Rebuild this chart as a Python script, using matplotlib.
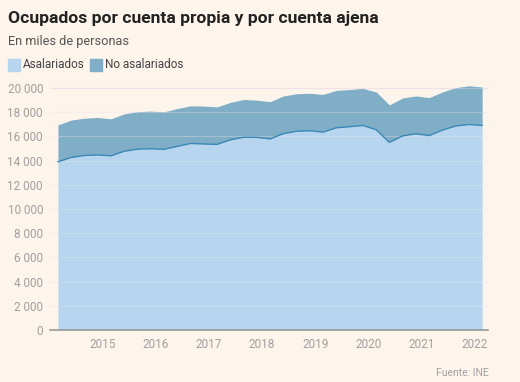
import matplotlib.pyplot as plt
import numpy as np

# EPA quarterly data, 2014 Q1 - 2022 Q1 (thousands of people)
years = [2014, 2015, 2016, 2017, 2018, 2019, 2020, 2021, 2022]
asalariados = [13903, 14265, 14427, 14470,
               14397, 14776, 14949, 14986,
               14934, 15180, 15418, 15377,
               15342, 15718, 15931, 15924,
               15792, 16231, 16427, 16469,
               16357, 16716, 16806, 16907,
               16556, 15511, 16043, 16222,
               16070, 16520, 16864, 16986,
               16908]
no_asalariados = [3048, 3088, 3077, 3099,
                  3058, 3090, 3100, 3108,
                  3096, 3121, 3110, 3131,
                  3096, 3095, 3118, 3074,
                  3082, 3113, 3101, 3096,
                  3114, 3089, 3068, 3060,
                  3125, 3096, 3134, 3122,
                  3137, 3152, 3167, 3199,
                  3177]
tick_years = [2015, 2016, 2017, 2018, 2019, 2020, 2021, 2022]
y_ticks = [0, 2000, 4000, 6000, 8000, 10000, 12000, 14000, 16000, 18000, 20000]

bg = '#fdf4ec'
c_asal = '#b7d5ee'
c_noasal = '#80aec6'
c_line = '#3a89b8'
grey = '#a0a0a0'

# quarter positions in decimal years
x = years[0] + np.arange(len(asalariados)) / 4.0
asal = np.array(asalariados)
total = asal + np.array(no_asalariados)

fig = plt.figure(figsize=(5.2, 3.82), dpi=100, facecolor=bg)
ax = fig.add_axes([50 / 520, 52 / 382, 438 / 520, 245 / 382])
ax.set_facecolor(bg)

ax.fill_between(x, 0, asal, color=c_asal, linewidth=0, zorder=2)
ax.fill_between(x, asal, total, color=c_noasal, linewidth=0, zorder=2)
ax.plot(x, asal, color=c_line, linewidth=1.0, zorder=4)

# faint horizontal grid over the areas
for yt in y_ticks[1:]:
    ax.axhline(yt, color='#ebe3ee', linewidth=0.8, alpha=0.35, zorder=3)
ax.axhline(y_ticks[-1], color='#f0e2e6', linewidth=0.8, zorder=1)

ax.set_xlim(x[0] - 0.15, x[-1] + 0.11)
ax.set_ylim(0, 20250)

ax.set_yticks(y_ticks)
ax.set_yticklabels([f'{v:,}'.replace(',', ' ') if v else '0' for v in y_ticks])
ax.set_xticks([yr - 0.15 for yr in tick_years])
ax.set_xticklabels([str(yr) for yr in tick_years])
ax.tick_params(axis='both', length=0, colors=grey, labelsize=8.5)
ax.tick_params(axis='y', pad=5)
ax.tick_params(axis='x', pad=6)
for lab in ax.get_xticklabels() + ax.get_yticklabels():
    lab.set_fontfamily('Roboto')

for s in ['top', 'right', 'left']:
    ax.spines[s].set_visible(False)
ax.spines['bottom'].set_color('#999999')
ax.spines['bottom'].set_linewidth(1.2)
ax.spines['bottom'].set_zorder(5)

# title, subtitle, legend, source
fig.text(8 / 520, 1 - 18 / 382, 'Ocupados por cuenta propia y por cuenta ajena',
         fontsize=12.6, fontweight='bold', family='Roboto', color='#222222', va='center')
fig.text(8 / 520, 1 - 41 / 382, 'En miles de personas',
         fontsize=9.2, family='Roboto', color='#555555', va='center')

fig.patches.append(plt.Rectangle((8 / 520, 1 - 71 / 382), 12 / 520, 12 / 382,
                                 transform=fig.transFigure, color=c_asal))
fig.text(23 / 520, 1 - 65 / 382, 'Asalariados', fontsize=8.5, family='Roboto',
         color='#444444', va='center')
fig.patches.append(plt.Rectangle((90 / 520, 1 - 71 / 382), 12 / 520, 12 / 382,
                                 transform=fig.transFigure, color=c_noasal))
fig.text(105 / 520, 1 - 65 / 382, 'No asalariados', fontsize=8.5, family='Roboto',
         color='#444444', va='center')

fig.text(489 / 520, 1 - 373 / 382, 'Fuente: INE', fontsize=7.5, family='Roboto',
         color=grey, ha='right', va='center')

fig.savefig('out.png', dpi=100, facecolor=bg)
